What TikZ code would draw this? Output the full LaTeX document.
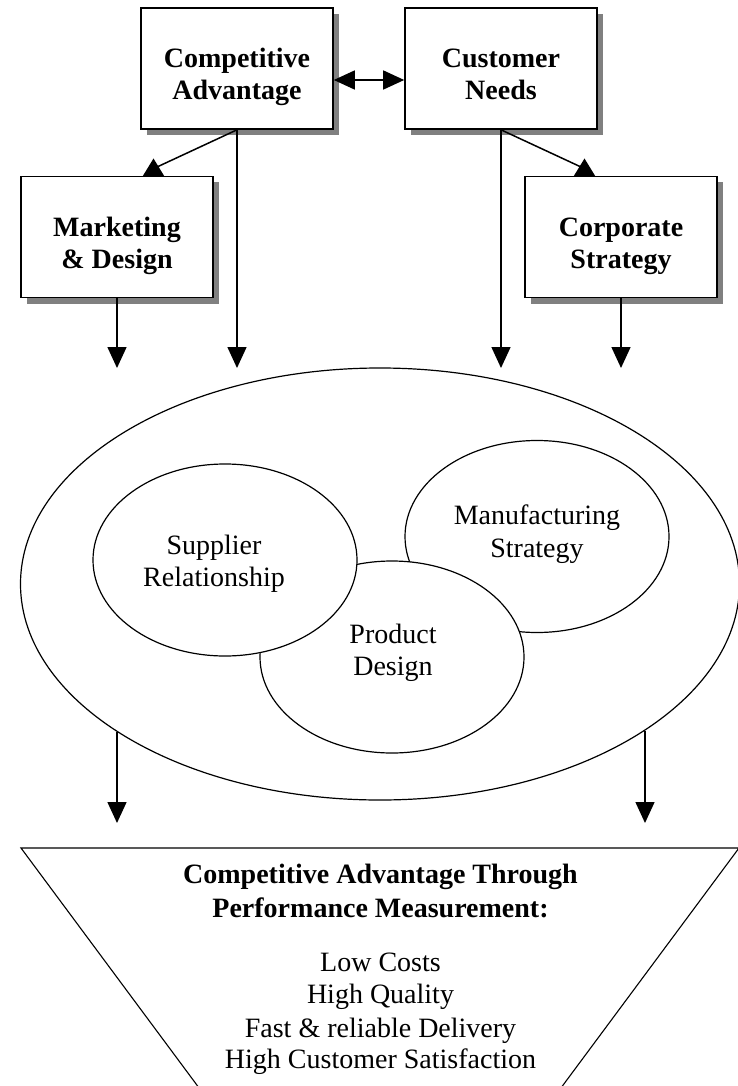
\documentclass[tikz,border=0pt]{standalone}
\usepackage{fontspec}
\setmainfont{Liberation Serif}
\usetikzlibrary{arrows.meta,shapes.geometric,shadows}
\begin{document}
\begin{tikzpicture}[x=1pt,y=-1pt,
  box/.style={draw, line width=1.6pt, fill=white, minimum width=192pt, minimum height=121pt, inner sep=0pt,
    drop shadow={shadow xshift=6pt, shadow yshift=-6pt, opacity=1, fill=black!50}},
  conn/.style={line width=1.5pt},
  tip/.style={-{Triangle[width=19pt,length=21pt]}},
  bl/.style={anchor=base, inner sep=0pt, font=\fontsize{28}{32}\selectfont\bfseries},
  rl/.style={anchor=base, inner sep=0pt, font=\fontsize{28}{32}\selectfont},
  oval/.style={ellipse, draw, line width=1.2pt, fill=white, inner sep=0pt, minimum width=264pt, minimum height=192pt}]
\useasboundingbox (0,0) rectangle (738,1086);
\clip (0,0) rectangle (738,1086);
\fill[white] (0,0) rectangle (738,1086);

% boxes
\node[box] (ca) at (237,68.5) {};
\node[box] (cn) at (501,68.5) {};
\node[box] (md) at (117,237) {};
\node[box] (cs) at (621,237) {};

\node[bl] (ca1) at (237,68) {Competitive};
\node[bl] (ca2) at (237,100) {Advantage};
\node[bl] (cn1) at (501,68) {Customer};
\node[bl] (cn2) at (501,100) {Needs};
\node[bl] (md1) at (117,236) {Marketing};
\node[bl] (md2) at (117,268) {\& Design};
\node[bl] (cs1) at (621,236) {Corporate};
\node[bl] (cs2) at (621,268) {Strategy};

% connectors at the top
\coordinate (dy) at (0,80);
\draw[conn,{Triangle[width=19pt,length=21pt]}-{Triangle[width=19pt,length=21pt]}] (ca.east |- dy) -- (cn.west |- dy);

\coordinate (ebase) at (0,368);
\draw[conn,tip] (md.south) -- (md.south |- ebase);
\draw[conn,tip] (ca.south) -- (ca.south |- ebase);
\draw[conn,tip] (cn.south) -- (cn.south |- ebase);
\draw[conn,tip] (cs.south) -- (cs.south |- ebase);

\coordinate (mdin) at (157,167);
\coordinate (csin) at (581,167);
\draw[conn] (ca.south) -- (mdin);
\draw[conn] (cn.south) -- (csin);
\coordinate (mdtri) at (153.5,176.5);
\coordinate (cstri) at (584.5,176.5);
\fill (mdtri) ++(-11,0) -- ++(22,0) -- ++(-11,-18) -- cycle;
\fill (cstri) ++(-11,0) -- ++(22,0) -- ++(-11,-18) -- cycle;

% ellipses
\node[ellipse, draw, line width=1.2pt, inner sep=0pt, minimum width=719pt, minimum height=432pt] (outer) at (380,584) {};
\node[oval] (mfg) at (537,536.5) {};
\node[oval] (pd) at (392,657) {};
\node[oval] (sup) at (225,560) {};

\node[rl] (sup1) at (214,554) {Supplier};
\node[rl] (sup2) at (214,586) {Relationship};
\node[rl] (mfg1) at (537,524) {Manufacturing};
\node[rl] (mfg2) at (537,557) {Strategy};
\node[rl] (pd1) at (393,643) {Product};
\node[rl] (pd2) at (393,675) {Design};

% bottom arrows
\coordinate (b1) at (117,731.5);
\coordinate (b2) at (645,730.5);
\coordinate (bb) at (0,823);
\draw[conn,tip] (b1) -- (b1 |- bb);
\draw[conn,tip] (b2) -- (b2 |- bb);

% funnel
\draw[line width=1.1pt] (208,1100) -- (21,848) -- (739,848) -- (552,1100);
\node[bl] (f1) at (380.5,883) {Competitive Advantage Through};
\node[bl] (f2) at (380.5,917) {Performance Measurement:};
\node[rl] (f3) at (380.5,971) {Low Costs};
\node[rl] (f4) at (380.5,1003) {High Quality};
\node[rl] (f5) at (380.5,1037) {Fast \& reliable Delivery};
\node[rl] (f6) at (380.5,1068) {High Customer Satisfaction};
\end{tikzpicture}
\end{document}
